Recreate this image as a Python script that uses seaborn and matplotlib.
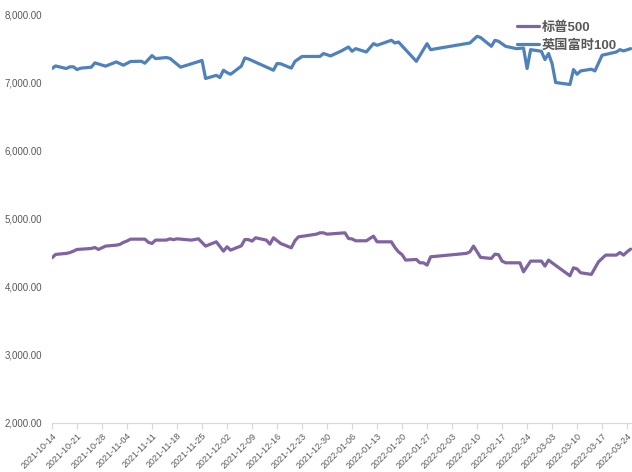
import matplotlib
matplotlib.use("Agg")
import matplotlib.pyplot as plt
from matplotlib.lines import Line2D
from matplotlib.ticker import FuncFormatter, FixedLocator
import seaborn as sns
import pandas as pd

# ---- data ----
spx_dates = ["2021-10-14", "2021-10-15", "2021-10-18", "2021-10-19", "2021-10-20", "2021-10-21",
             "2021-10-25", "2021-10-26", "2021-10-27", "2021-10-29", "2021-11-01", "2021-11-02",
             "2021-11-03", "2021-11-04", "2021-11-05", "2021-11-09", "2021-11-10", "2021-11-11",
             "2021-11-12", "2021-11-15", "2021-11-16", "2021-11-17", "2021-11-18", "2021-11-22",
             "2021-11-24", "2021-11-26", "2021-11-29", "2021-12-01", "2021-12-02", "2021-12-03",
             "2021-12-06", "2021-12-07", "2021-12-08", "2021-12-09", "2021-12-10", "2021-12-13",
             "2021-12-14", "2021-12-15", "2021-12-17", "2021-12-20", "2021-12-21", "2021-12-22",
             "2021-12-24", "2021-12-27", "2021-12-28", "2021-12-29", "2021-12-30", "2022-01-04",
             "2022-01-05", "2022-01-06", "2022-01-07", "2022-01-10", "2022-01-12", "2022-01-13",
             "2022-01-17", "2022-01-18", "2022-01-19", "2022-01-20", "2022-01-21", "2022-01-24",
             "2022-01-25", "2022-01-26", "2022-01-27", "2022-01-28", "2022-02-07", "2022-02-08",
             "2022-02-09", "2022-02-11", "2022-02-14", "2022-02-15", "2022-02-16", "2022-02-17",
             "2022-02-18", "2022-02-21", "2022-02-22", "2022-02-23", "2022-02-25", "2022-02-28",
             "2022-03-01", "2022-03-02", "2022-03-03", "2022-03-08", "2022-03-09", "2022-03-10",
             "2022-03-11", "2022-03-14", "2022-03-16", "2022-03-18", "2022-03-21", "2022-03-22",
             "2022-03-23", "2022-03-24", "2022-03-25"]
spx_values = [4423, 4473, 4488, 4500, 4521, 4546,
              4560, 4575, 4546, 4595, 4609, 4620,
              4650, 4670, 4697, 4697, 4650, 4634,
              4683, 4683, 4702, 4690, 4702, 4683,
              4702, 4595, 4658, 4521, 4585, 4536,
              4599, 4692, 4690, 4668, 4717, 4683,
              4624, 4717, 4634, 4570, 4673, 4731,
              4746, 4770, 4790, 4790, 4770, 4790,
              4707, 4700, 4673, 4673, 4741, 4658,
              4658, 4575, 4511, 4470, 4390, 4399,
              4350, 4350, 4316, 4438, 4488, 4511,
              4595, 4429, 4414, 4477, 4470, 4375,
              4350, 4350, 4350, 4218, 4375, 4375,
              4302, 4390, 4350, 4160, 4277, 4260,
              4204, 4180, 4365, 4463, 4463, 4502,
              4463, 4511, 4551]

ftse_dates = ["2021-10-14", "2021-10-15", "2021-10-18", "2021-10-19", "2021-10-20", "2021-10-21",
              "2021-10-22", "2021-10-25", "2021-10-26", "2021-10-29", "2021-11-01", "2021-11-03",
              "2021-11-05", "2021-11-08", "2021-11-09", "2021-11-11", "2021-11-12", "2021-11-15",
              "2021-11-16", "2021-11-19", "2021-11-25", "2021-11-26", "2021-11-29", "2021-11-30",
              "2021-12-01", "2021-12-02", "2021-12-03", "2021-12-06", "2021-12-07", "2021-12-08",
              "2021-12-15", "2021-12-16", "2021-12-17", "2021-12-20", "2021-12-21", "2021-12-23",
              "2021-12-28", "2021-12-29", "2021-12-31", "2022-01-03", "2022-01-05", "2022-01-06",
              "2022-01-07", "2022-01-10", "2022-01-12", "2022-01-13", "2022-01-17", "2022-01-18",
              "2022-01-19", "2022-01-24", "2022-01-27", "2022-01-28", "2022-02-08", "2022-02-10",
              "2022-02-11", "2022-02-14", "2022-02-15", "2022-02-16", "2022-02-18", "2022-02-21",
              "2022-02-23", "2022-02-24", "2022-02-25", "2022-02-28", "2022-03-01", "2022-03-02",
              "2022-03-03", "2022-03-04", "2022-03-08", "2022-03-09", "2022-03-10", "2022-03-11",
              "2022-03-14", "2022-03-15", "2022-03-17", "2022-03-21", "2022-03-22", "2022-03-23",
              "2022-03-25"]
ftse_values = [7200, 7238, 7200, 7225, 7225, 7185,
               7205, 7220, 7283, 7235, 7297, 7249,
               7303, 7307, 7278, 7390, 7346, 7361,
               7350, 7220, 7318, 7054, 7100, 7068,
               7175, 7140, 7116, 7235, 7356, 7340,
               7175, 7273, 7270, 7206, 7304, 7377,
               7377, 7420, 7385, 7458, 7516, 7453,
               7492, 7443, 7565, 7541, 7614, 7575,
               7589, 7306, 7565, 7477, 7575, 7673,
               7654, 7526, 7614, 7600, 7526, 7492,
               7501, 7200, 7477, 7453, 7331, 7420,
               7273, 6995, 6966, 7185, 7116, 7165,
               7190, 7165, 7395, 7443, 7477, 7458,
               7492]

series_names = ["标普500", "英国富时100"]
series_colors = ["#8064A2", "#4F81BD"]
y_ticks = [2000, 3000, 4000, 5000, 6000, 7000, 8000]
x_tick_labels = ["2021-10-14", "2021-10-21", "2021-10-28", "2021-11-04", "2021-11-11", "2021-11-18",
                 "2021-11-25", "2021-12-02", "2021-12-09", "2021-12-16", "2021-12-23", "2021-12-30",
                 "2022-01-06", "2022-01-13", "2022-01-20", "2022-01-27", "2022-02-03", "2022-02-10",
                 "2022-02-17", "2022-02-24", "2022-03-03", "2022-03-10", "2022-03-17", "2022-03-24"]

df = pd.concat([
    pd.DataFrame({"date": pd.to_datetime(spx_dates), "value": spx_values, "series": series_names[0]}),
    pd.DataFrame({"date": pd.to_datetime(ftse_dates), "value": ftse_values, "series": series_names[1]}),
], ignore_index=True)

sns.set_theme(style="white")
plt.rcParams["font.family"] = ["Liberation Sans", "Noto Sans CJK SC", "DejaVu Sans"]

fig = plt.figure(figsize=(6.32, 4.72), dpi=100)
ax = fig.add_axes([52 / 632, 49 / 472, 1 - 52 / 632, (423 - 14) / 472])

sns.lineplot(data=df, x="date", y="value", hue="series", hue_order=series_names,
             palette=series_colors, linewidth=2.3, estimator=None, sort=True,
             legend=False, ax=ax)

ax.set_ylim(2000, 8000)
ax.set_xlim(pd.Timestamp("2021-10-14"), pd.Timestamp("2022-03-25 09:00"))
ax.set_xlabel("")
ax.set_ylabel("")

ax.yaxis.set_major_locator(FixedLocator(y_ticks))
ax.yaxis.set_major_formatter(FuncFormatter(lambda v, p: f"{v:,.2f}"))
xt = pd.to_datetime(x_tick_labels)
ax.set_xticks(xt)
ax.set_xticklabels(x_tick_labels, rotation=45, ha="right", rotation_mode="anchor")

for s in ["left", "right", "top"]:
    ax.spines[s].set_visible(False)
ax.spines["bottom"].set_color("#d9d9d9")
ax.spines["bottom"].set_linewidth(0.9)
ax.tick_params(axis="x", which="major", direction="out", length=4, width=0.9,
               color="#d9d9d9", labelsize=6.5, labelcolor="#595959", pad=2, bottom=True)
ax.tick_params(axis="y", length=0, labelsize=7, labelcolor="#595959", pad=7)
ax.grid(False)

handles = [Line2D([0], [0], color=c, lw=2.3) for c in series_colors]
leg = ax.legend(handles, series_names, loc="upper left", bbox_to_anchor=(517 / 632, 1 - 21 / 472),
                bbox_transform=fig.transFigure, frameon=False, handlelength=1.7,
                handletextpad=0.2, labelspacing=0.45, borderpad=0, borderaxespad=0,
                prop={"size": 9.5, "weight": "bold"})
for t in leg.get_texts():
    t.set_color("#595959")

fig.savefig("out.png", dpi=100)
